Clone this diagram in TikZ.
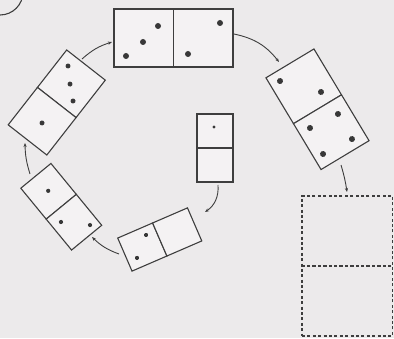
\documentclass[tikz,border=0pt]{standalone}
\usetikzlibrary{arrows.meta}
\definecolor{bgc}{RGB}{236,234,235}
\definecolor{ink}{RGB}{62,62,62}
\tikzset{
  domhalf/.style={draw=ink, line width=1.1pt, inner sep=0pt, outer sep=0pt, fill=bgc!60!white},
  dashhalf/.style={draw=ink, line width=1.2pt, dash pattern=on 3pt off 2.4pt, inner sep=0pt, outer sep=0pt, minimum width=90.5pt, minimum height=70pt},
  pipbig/.style={fill=ink!90!black, draw=none, circle, inner sep=0pt, minimum size=6pt},
  pipsmall/.style={fill=ink!90!black, draw=none, circle, inner sep=0pt, minimum size=4.2pt},
  link/.style={draw=ink, line width=0.9pt, -{Stealth[length=4pt,width=3.2pt]}},
}
\begin{document}
\begin{tikzpicture}[x=1pt,y=1pt]
\useasboundingbox (0,0) rectangle (394,338);
\fill[bgc] (0,0) rectangle (394,338);
% circled number fragment
\node[draw=ink, line width=1.1pt, circle, minimum size=46pt, inner sep=0pt] (num) at (0,346) {};
% top domino
\begin{scope}[shift={(173.5,300)}, rotate=0, transform shape]
  \node[domhalf, minimum width=59.5pt, minimum height=58pt] (t1) at (-29.75,0) {};
  \node[domhalf, minimum width=59.5pt, minimum height=58pt] (t2) at (29.75,0) {};
  \foreach \p in {(-15.5,12),(-30.5,-4),(-47.5,-18),(46.5,15),(14.5,-16)} \node[pipbig] at \p {};
\end{scope}
% right domino
\begin{scope}[shift={(317.5,228.75)}, rotate=-59, transform shape]
  \node[domhalf, minimum width=53.5pt, minimum height=56pt] (r1) at (-26.75,0) {};
  \node[domhalf, minimum width=53.5pt, minimum height=56pt] (r2) at (26.75,0) {};
  \foreach \p in {(-43.5,-17.6),(-13,11.9),(14.6,15.1),(12.2,-16.1),(43.3,14.2),(41.2,-18.3)} \node[pipbig] at \p {};
\end{scope}
% middle domino
\begin{scope}[shift={(215,190)}, rotate=-90, transform shape]
  \node[domhalf, minimum width=34pt, minimum height=36pt] (m1) at (-17,0) {};
  \node[domhalf, minimum width=34pt, minimum height=36pt] (m2) at (17,0) {};
  \node[pipsmall, minimum size=3.4pt] at (-21,-1) {};
\end{scope}
% bottom domino
\begin{scope}[shift={(159.75,98.5)}, rotate=23.4, transform shape]
  \node[domhalf, minimum width=38pt, minimum height=36pt] (b1) at (-19,0) {};
  \node[domhalf, minimum width=38pt, minimum height=36pt] (b2) at (19,0) {};
  \foreach \p in {(-10.8,9.6),(-28.2,-7.9)} \node[pipsmall] at \p {};
\end{scope}
% bottom-left domino
\begin{scope}[shift={(61.25,131.25)}, rotate=-50.6, transform shape]
  \node[domhalf, minimum width=40pt, minimum height=39pt] (l1) at (-20,0) {};
  \node[domhalf, minimum width=40pt, minimum height=39pt] (l2) at (20,0) {};
  \foreach \p in {(-20.6,0),(11.6,-9.9),(32.4,10.6)} \node[pipsmall] at \p {};
\end{scope}
% top-left domino
\begin{scope}[shift={(56.75,235.5)}, rotate=-128, transform shape]
  \node[domhalf, minimum width=47.5pt, minimum height=49pt] (u1) at (-23.75,0) {};
  \node[domhalf, minimum width=47.5pt, minimum height=49pt] (u2) at (23.75,0) {};
  \foreach \p in {(-35.7,-13.6),(-22.7,-0.9),(-11.2,11.9),(25.2,1.0)} \node[pipbig, minimum size=5pt] at \p {};
\end{scope}
% dashed empty domino
\node[dashhalf] (d1) at (347.25,107) {};
\node[dashhalf] (d2) at (347.25,37) {};
% connector end points
\coordinate (a1s) at (218,153); \coordinate (a1e) at (205,126);
\coordinate (a2s) at (119,84);  \coordinate (a2e) at (92,101);
\coordinate (a3s) at (30,164);  \coordinate (a3e) at (25,195);
\coordinate (a4s) at (82,279);  \coordinate (a4e) at (112,296);
\coordinate (a5s) at (234,304); \coordinate (a5e) at (279,276);
\coordinate (a6s) at (341,173); \coordinate (a6e) at (347,146);
\draw[link] (a1s) to[bend left=30] (a1e);
\draw[link] (a2s) to[bend left=12] (a2e);
\draw[link] (a3s) to[bend left=8] (a3e);
\draw[link] (a4s) to[bend left=12] (a4e);
\draw[link] (a5s) to[bend left=20] (a5e);
\draw[link] (a6s) to[bend left=4] (a6e);
\end{tikzpicture}
\end{document}
